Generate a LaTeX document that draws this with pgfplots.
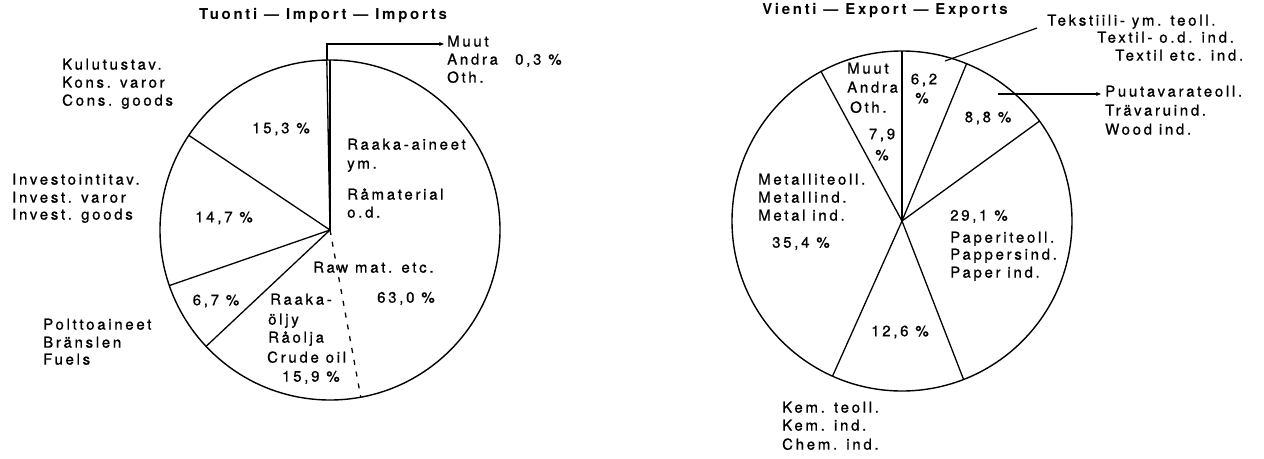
\documentclass[border=0pt]{standalone}
\usepackage{fontspec}
\setmainfont{TeX Gyre Heros}[LetterSpace=18, UprightFeatures={FakeBold=0.9}]
\usepackage{pgfplots}
\usepackage{pgfplotstable}
\pgfplotsset{compat=1.18}
\usetikzlibrary{arrows.meta}

% Imports: shares in per cent, counter-clockwise from 12 o'clock
\pgfplotstableread{
name pct
Muut 0.3
Kulutus 15.3
Invest 14.7
Poltto 6.7
Raaka 63.0
}\imptab
\pgfplotstablecreatecol[create col/expr accum={\pgfmathaccuma + \thisrow{pct}}{0}]{cum}\imptab
% crude oil (part of raw materials), starts after 37.0 %
\pgfplotstableread{
start pct
37.0 15.9
}\crudetab

% Exports: shares in per cent, counter-clockwise from 12 o'clock
\pgfplotstableread{
name pct
Muut 7.9
Metal 35.4
Kem 12.6
Paper 29.1
Wood 8.8
Textil 6.2
}\exptab
\pgfplotstablecreatecol[create col/expr accum={\pgfmathaccuma + \thisrow{pct}}{0}]{cum}\exptab

\pgfplotsset{pie/.style={
  width=340pt, height=340pt, scale only axis,
  xmin=-1, xmax=1, ymin=-1, ymax=1,
  hide axis, clip=false}}

\begin{document}
\begin{tikzpicture}[x=1pt, y=-1pt, every node/.style={inner sep=0pt, font=\fontsize{15}{17}\selectfont}]
\useasboundingbox (0,0) rectangle (1264,458);

\begin{axis}[pie, at={(330pt,-230pt)}, anchor=center]
\draw[line width=1.4pt] (axis cs:0,0) circle[radius=1];
\addplot[black, line width=1.3pt, no marks, quiver={u={cos(90+3.6*\thisrow{cum})}, v={sin(90+3.6*\thisrow{cum})}}] table[x expr=0, y expr=0] {\imptab};
\addplot[black, line width=1.3pt, no marks, dash pattern=on 5pt off 7pt, quiver={u={cos(90+3.6*(\thisrow{start}+\thisrow{pct}))}, v={sin(90+3.6*(\thisrow{start}+\thisrow{pct}))}}] table[x expr=0, y expr=0] {\crudetab};
\end{axis}

\begin{axis}[pie, at={(902pt,-221pt)}, anchor=center]
\draw[line width=1.4pt] (axis cs:0,0) circle[radius=1];
\addplot[black, line width=1.3pt, no marks, quiver={u={cos(90+3.6*\thisrow{cum})}, v={sin(90+3.6*\thisrow{cum})}}] table[x expr=0, y expr=0] {\exptab};
\end{axis}

% ---------- Import labels ----------
\node[font=\fontsize{15}{17}\selectfont\bfseries] at (323,16) {Tuonti --- Import --- Imports};
\draw[line width=1.2pt] (327,60) -- (327,44) -- (441,44);
\draw[line width=1.2pt, -{Stealth[length=5pt,width=4pt]}] (400,44) -- (444,44);
\node[anchor=mid west] at (447,44) {Muut};
\node[anchor=mid west] at (447,62) {Andra};
\node[anchor=mid west] at (515,62) {0,3 \%};
\node[anchor=mid west] at (447,80) {Oth.};

\node[anchor=mid west] at (62,67) {Kulutustav.};
\node[anchor=mid west] at (62,85) {Kons. varor};
\node[anchor=mid west] at (62,103) {Cons. goods};
\node at (281,129) {15,3 \%};

\node[anchor=mid west] at (12,182) {Investointitav.};
\node[anchor=mid west] at (12,200) {Invest. varor};
\node[anchor=mid west] at (12,217) {Invest. goods};
\node at (224,218) {14,7 \%};

\node at (216,301) {6,7 \%};
\node[anchor=mid west] at (43,327) {Polttoaineet};
\node[anchor=mid west] at (43,345) {Bränslen};
\node[anchor=mid west] at (43,362) {Fuels};

\node[anchor=mid west] at (347,147) {Raaka-aineet};
\node[anchor=mid west] at (347,166) {ym.};
\node[anchor=mid west] at (347,197) {Råmaterial};
\node[anchor=mid west] at (347,215) {o.d.};
\node[anchor=mid west] at (313,270) {Raw mat. etc.};
\node[anchor=mid west] at (377,300) {63,0 \%};

\node[anchor=mid west] at (270,302) {Raaka-};
\node[anchor=mid west] at (268,322) {öljy};
\node[anchor=mid west] at (268,340) {Råolja};
\node[anchor=mid west] at (267,360) {Crude oil};
\node[anchor=mid west] at (282,379) {15,9 \%};

% ---------- Export labels ----------
\node[font=\fontsize{15}{17}\selectfont\bfseries] at (885,11) {Vienti --- Export --- Exports};
\draw[line width=1.2pt] (945,61) -- (1037,28);
\node[anchor=mid west] at (1047,23) {Tekstiili- ym. teoll.};
\node[anchor=mid west] at (1097,40) {Textil- o.d. ind.};
\node[anchor=mid west] at (1115,58) {Textil etc. ind.};
\node at (924,80) {6,2};
\node at (922,98) {\%};

\node[anchor=mid west] at (847,71) {Muut};
\node[anchor=mid west] at (847,90) {Andra};
\node[anchor=mid west] at (850,110) {Oth.};
\node at (882,135) {7,9};
\node at (882,155) {\%};

\node at (988,118) {8,8 \%};
\draw[line width=1.2pt, -{Stealth[length=5pt,width=4pt]}] (998,94) -- (1101,94);
\node[anchor=mid west] at (1105,94) {Puutavarateoll.};
\node[anchor=mid west] at (1105,113) {Trävaruind.};
\node[anchor=mid west] at (1105,132) {Wood ind.};

\node[anchor=mid west] at (950,218) {29,1 \%};
\node[anchor=mid west] at (950,240) {Paperiteoll.};
\node[anchor=mid west] at (950,257) {Pappersind.};
\node[anchor=mid west] at (950,275) {Paper ind.};

\node[anchor=mid west] at (758,182) {Metalliteoll.};
\node[anchor=mid west] at (758,200) {Metallind.};
\node[anchor=mid west] at (758,218) {Metal ind.};
\node[anchor=mid west] at (772,245) {35,4 \%};

\node at (900,332) {12,6 \%};
\node[anchor=mid west] at (782,410) {Kem. teoll.};
\node[anchor=mid west] at (782,428) {Kem. ind.};
\node[anchor=mid west] at (782,447) {Chem. ind.};
\end{tikzpicture}
\end{document}
